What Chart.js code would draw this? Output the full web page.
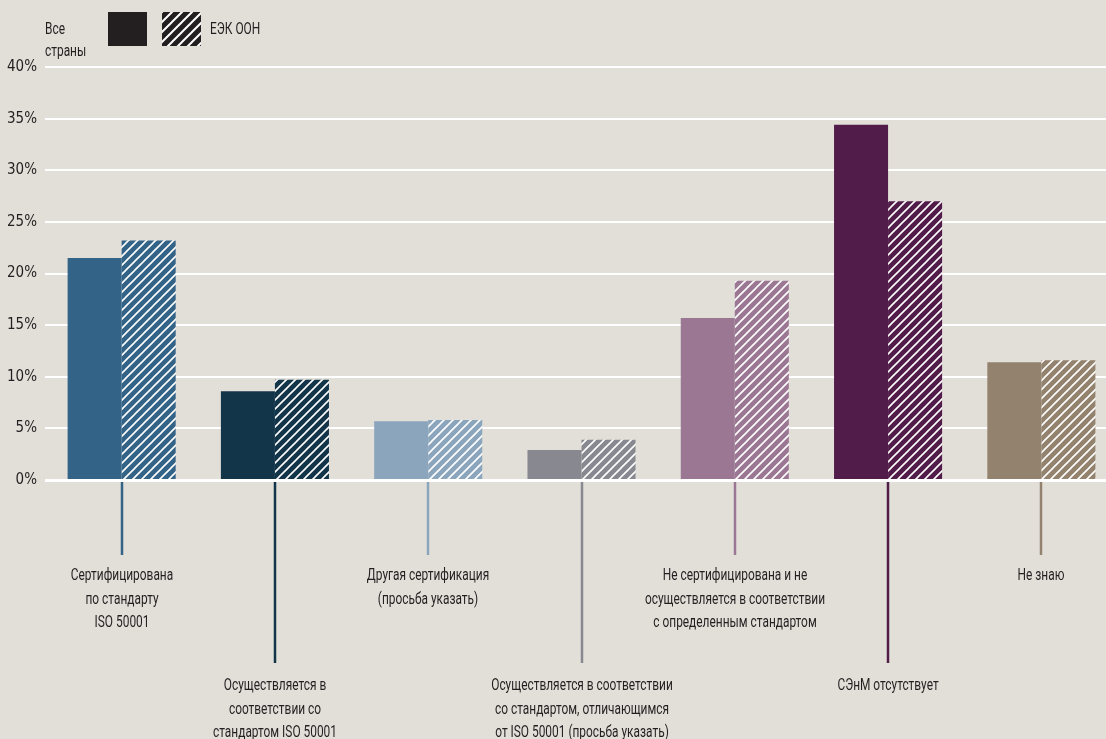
<!DOCTYPE html>
<html lang="ru">
<head>
<meta charset="utf-8">
<title>Сертификация СЭнМ</title>
<script src="https://cdn.jsdelivr.net/npm/chart.js"></script>
<style>
  html, body { margin: 0; padding: 0; background: #e2dfd9; overflow: hidden; }
  canvas { display: block; }
</style>
</head>
<body>
<canvas id="chart" width="1118" height="739"></canvas>
<script>
// Категории (подписи по строкам)
const categories = [
  ['Сертифицирована', 'по стандарту', 'ISO 50001'],
  ['Осуществляется в', 'соответствии со', 'стандартом ISO 50001'],
  ['Другая сертификация', '(просьба указать)'],
  ['Осуществляется в соответствии', 'со стандартом, отличающимся', 'от ISO 50001 (просьба указать)'],
  ['Не сертифицирована и не', 'осуществляется в соответствии', 'с определенным стандартом'],
  ['СЭнМ отсутствует'],
  ['Не знаю']
];
const seriesNames = ['Все страны', 'ЕЭК ООН'];
const allCountries = [21.5, 8.6, 5.7, 2.9, 15.7, 34.4, 11.4];
const uneceRegion = [23.2, 9.7, 5.8, 3.9, 19.3, 27.0, 11.6];
const yTicks = [0, 5, 10, 15, 20, 25, 30, 35, 40];
const colors = ['#336387', '#13354a', '#8ba5bd', '#878890', '#9b7793', '#521c4a', '#93826d'];

const FONT = 'Roboto, "Liberation Sans", sans-serif';
const TEXT = '#231f20';
const NARROW = 0.7; // сжатие текста по горизонтали

// штриховка белыми диагональными линиями
function hatch(color, size, width) {
  const c = document.createElement('canvas');
  c.width = size; c.height = size;
  const g = c.getContext('2d');
  g.fillStyle = color;
  g.fillRect(0, 0, size, size);
  g.strokeStyle = '#ffffff';
  g.lineWidth = width;
  g.beginPath();
  g.moveTo(-1, size + 1); g.lineTo(size + 1, -1);
  g.moveTo(-1, 1); g.lineTo(1, -1);
  g.moveTo(size - 1, size + 1); g.lineTo(size + 1, size - 1);
  g.stroke();
  return g.createPattern(c, 'repeat');
}

function narrowText(ctx, text, x, y) {
  ctx.save();
  ctx.translate(x, y);
  ctx.scale(NARROW, 1);
  ctx.fillText(text, 0, 0);
  ctx.restore();
}

const annotations = {
  id: 'annotations',
  afterDatasetsDraw(chart) {
    const ctx = chart.ctx;
    const x = chart.scales.x;
    const y = chart.scales.y;
    const area = chart.chartArea;
    const y0 = y.getPixelForValue(0);
    ctx.save();

    // нулевая линия
    ctx.strokeStyle = '#ffffff';
    ctx.lineWidth = 3;
    ctx.beginPath();
    ctx.moveTo(area.left, y0 + 0.5);
    ctx.lineTo(area.right, y0 + 0.5);
    ctx.stroke();

    // выноски и подписи категорий
    ctx.font = '17px ' + FONT;
    ctx.textAlign = 'center';
    ctx.textBaseline = 'middle';
    categories.forEach((lines, i) => {
      const cx = Math.round(x.getPixelForValue(i));
      const low = i % 2 === 1;
      const end = low ? 663 : 555;
      const first = low ? 686 : 576;
      ctx.strokeStyle = colors[i];
      ctx.lineWidth = 2.5;
      ctx.beginPath();
      ctx.moveTo(cx, y0 + 2);
      ctx.lineTo(cx, end);
      ctx.stroke();
      ctx.fillStyle = TEXT;
      lines.forEach((t, k) => narrowText(ctx, t, cx, first + k * 23.5));
    });

    // легенда
    ctx.textAlign = 'left';
    ctx.fillStyle = TEXT;
    const words = seriesNames[0].split(' ');
    narrowText(ctx, words[0], 45, 30);
    narrowText(ctx, words[1], 45, 52);
    ctx.fillStyle = '#231f20';
    ctx.fillRect(108, 12, 39, 34);
    ctx.save();
    ctx.translate(162, 12);
    ctx.fillStyle = hatch('#231f20', 10, 2);
    ctx.fillRect(0, 0, 39, 34);
    ctx.restore();
    ctx.fillStyle = TEXT;
    narrowText(ctx, seriesNames[1], 210, 30);
    ctx.restore();
  }
};

new Chart(document.getElementById('chart'), {
  type: 'bar',
  data: {
    labels: categories.map(l => l.join(' ')),
    datasets: [
      {
        label: seriesNames[0],
        data: allCountries,
        backgroundColor: colors,
        categoryPercentage: 0.705,
        barPercentage: 1
      },
      {
        label: seriesNames[1],
        data: uneceRegion,
        backgroundColor: colors.map(c => hatch(c, 9, 1.6)),
        categoryPercentage: 0.705,
        barPercentage: 1
      }
    ]
  },
  options: {
    responsive: false,
    animation: false,
    devicePixelRatio: 1,
    layout: { padding: { top: 67, bottom: 259, left: 0, right: 0 } },
    plugins: {
      legend: { display: false },
      tooltip: { enabled: false }
    },
    scales: {
      x: { display: false },
      y: {
        min: 0,
        max: 40,
        afterFit(s) { s.width = 45; },
        afterBuildTicks(s) { s.ticks = yTicks.map(v => ({ value: v })); },
        border: { display: false },
        grid: { color: '#ffffff', lineWidth: 2, drawTicks: false },
        ticks: {
          padding: 8,
          color: TEXT,
          font: { family: '"Liberation Sans Narrow", "DejaVu Sans Condensed", Roboto, sans-serif', size: 15 },
          callback: v => v + '%'
        }
      }
    }
  },
  plugins: [annotations]
});
</script>
</body>
</html>
